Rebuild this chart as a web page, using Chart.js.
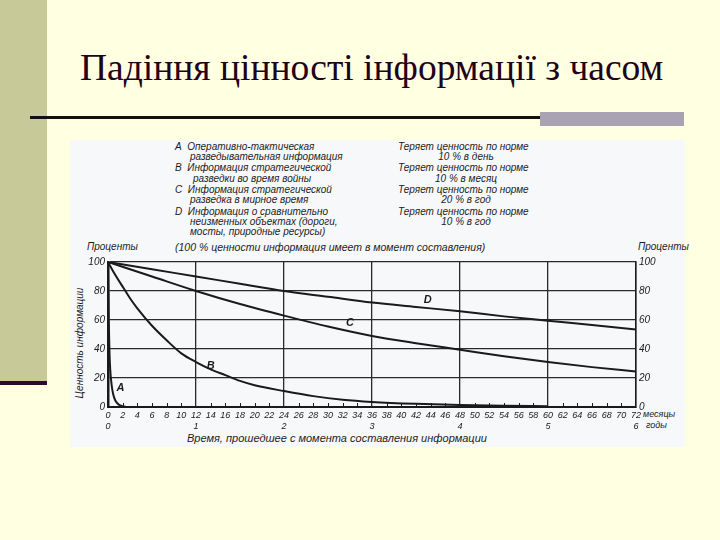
<!DOCTYPE html>
<html><head><meta charset="utf-8">
<script src="https://cdn.jsdelivr.net/npm/chart.js@4.4.1/dist/chart.umd.min.js"></script>
<style>
html,body{margin:0;padding:0;}
body{width:720px;height:540px;background:#ffffe2;position:relative;overflow:hidden;}
.abs{position:absolute;white-space:nowrap;}
#bar{left:0;top:0;width:47px;height:381px;background:#c8c998;}
#barline{left:0;top:381px;width:47px;height:4px;background:#2a0b2a;}
#title{left:80px;top:49px;font-family:"Liberation Serif",serif;font-size:37.5px;line-height:37.5px;color:#22001a;}
#rule{left:30px;top:116px;width:512px;height:3px;background:#111;}
#grey{left:540px;top:112px;width:144px;height:14px;background:#a9a2b3;}
#panel{left:70px;top:140px;width:615px;height:307px;background:#f7f8fa;}
.t{position:absolute;white-space:nowrap;font-family:"Liberation Sans",sans-serif;font-style:italic;font-size:10px;line-height:12px;color:#1c1c1c;}
.c{transform:translateX(-50%);}
#cv{position:absolute;left:0;top:0;}
</style></head>
<body>
<div class="abs" id="bar"></div>
<div class="abs" id="barline"></div>
<div class="abs" id="title">Падіння цінності інформації з часом</div>
<div class="abs" id="panel"></div>
<div class="abs" id="rule"></div>
<div class="abs" id="grey"></div>

<div class="t" style="left:175px;top:141px">A&nbsp; Оперативно-тактическая</div>
<div class="t" style="left:190px;top:151px">разведывательная информация</div>
<div class="t" style="left:175px;top:162px">B&nbsp; Информация стратегической</div>
<div class="t" style="left:193px;top:173px">разведки во время войны</div>
<div class="t" style="left:175px;top:184px">C&nbsp; Информация стратегической</div>
<div class="t" style="left:190px;top:194px">разведка в мирное время</div>
<div class="t" style="left:175px;top:206px">D&nbsp; Информация о сравнительно</div>
<div class="t" style="left:190px;top:216px">неизменных объектах (дороги,</div>
<div class="t" style="left:190px;top:226px">мосты, природные ресурсы)</div>

<div class="t" style="left:398px;top:141px">Теряет ценность по норме</div>
<div class="t c" style="left:466px;top:151px">10 % в день</div>
<div class="t" style="left:398px;top:162px">Теряет ценность по норме</div>
<div class="t c" style="left:466px;top:173px">10 % в месяц</div>
<div class="t" style="left:398px;top:184px">Теряет ценность по норме</div>
<div class="t c" style="left:466px;top:194px">20 % в год</div>
<div class="t" style="left:398px;top:206px">Теряет ценность по норме</div>
<div class="t c" style="left:466px;top:216px">10 % в год</div>

<div class="t" style="left:87px;top:241px">Проценты</div>
<div class="t" style="left:175px;top:241px;font-size:10.5px">(100 % ценности информация имеет в момент составления)</div>
<div class="t" style="left:638px;top:241px">Проценты</div>
<div class="t" style="left:643px;top:408px;font-size:9px">месяцы</div>
<div class="t" style="left:646px;top:419px;font-size:9px">годы</div>
<div class="t" style="left:187px;top:432px;font-size:11px">Время, прошедшее с момента составления информации</div>
<div class="t" style="left:80px;top:343px;transform:translate(-50%,-50%) rotate(-90deg);font-size:10px">Ценность информации</div>

<canvas id="cv" width="720" height="540"></canvas>
<script>
// ---- data ----
const monthTicks = [0,2,4,6,8,10,12,14,16,18,20,22,24,26,28,30,32,34,36,38,40,42,44,46,48,50,52,54,56,58,60,62,64,66,68,70,72];
const yearTicks = [0,1,2,3,4,5,6];
const valueTicks = [0,20,40,60,80,100];

const aMonths = [0, 0.1, 0.2, 0.3, 0.5, 0.7, 1, 1.5, 2, 2.5];
const aValues = [100, 60, 38, 26, 15, 9, 4.5, 1.5, 0.5, 0];

const bMonths = [0, 1, 2, 3, 4, 6, 8, 10, 12, 14, 16, 18, 20, 24, 28, 32, 36, 42, 48, 54, 60];
const bValues = [100, 91, 83, 75, 68, 56, 46, 37, 31, 26, 22, 18, 15, 11, 7.5, 5, 3.5, 2.2, 1.4, 0.9, 0.6];

const cMonths = [0, 6, 12, 18, 24, 30, 36, 42, 48, 54, 60, 66, 72];
const cValues = [100, 90, 80, 71, 63, 55.5, 49, 44, 39.5, 35, 31, 27.5, 24.5];

const dMonths = [0, 6, 12, 18, 24, 30, 36, 42, 48, 54, 60, 66, 72];
const dValues = [100, 95, 90, 85, 80, 76, 72, 69, 66, 62.5, 59.5, 56.5, 53.5];

const curveLabels = ['A','B','C','D'];
const labelAt = [[1.7,13],[14,28],[33,58],[43.6,74]];

function pts(xs, ys){ return xs.map((x,i)=>({x, y: ys[i]})); }

const ink = '#1a1a1a';
const tickFont = {family:'"Liberation Sans", sans-serif', style:'italic', size:9};

const upTicks = {
  id:'upTicks',
  afterDatasetsDraw(chart){
    const ctx = chart.ctx, xs = chart.scales.x, ys = chart.scales.y;
    const y0 = ys.getPixelForValue(0);
    ctx.save();
    ctx.strokeStyle = ink; ctx.lineWidth = 1;
    monthTicks.forEach(m=>{
      if (m % 12 === 0) return;
      const px = Math.round(xs.getPixelForValue(m)) + 0.5;
      ctx.beginPath(); ctx.moveTo(px, y0); ctx.lineTo(px, y0 - 4); ctx.stroke();
    });
    ctx.font = 'italic bold 11px "Liberation Sans", sans-serif';
    ctx.fillStyle = ink; ctx.textAlign = 'center'; ctx.textBaseline = 'middle';
    curveLabels.forEach((l,i)=>{
      ctx.fillText(l, xs.getPixelForValue(labelAt[i][0]), ys.getPixelForValue(labelAt[i][1]));
    });
    ctx.restore();
  }
};

const ds = (data) => ({data, borderColor: ink, borderWidth: 2, pointRadius: 0, tension: 0, cubicInterpolationMode: 'monotone', fill: false});

new Chart(document.getElementById('cv'), {
  type: 'line',
  data: { datasets: [ ds(pts(aMonths,aValues)), ds(pts(bMonths,bValues)), ds(pts(cMonths,cValues)), ds(pts(dMonths,dValues)) ] },
  options: {
    responsive: false, animation: false, devicePixelRatio: 1,
    layout: { padding: { left: 78, right: 44, top: 262, bottom: 103 } },
    plugins: { legend: {display:false}, tooltip: {enabled:false} },
    scales: {
      x: {
        type: 'linear', min: 0, max: 72,
        afterBuildTicks: s => { s.ticks = monthTicks.map(v=>({value:v})); },
        afterFit: s => { s.height = 30; },
        grid: { color: c => (c.tick && c.tick.value % 12 === 0) ? '#2a2a2a' : 'rgba(0,0,0,0)', lineWidth: 1.3, drawTicks: false },
        border: { display: true, color: ink, width: 2 },
        ticks: { autoSkip: false, maxRotation: 0, padding: 3, color: ink, font: tickFont,
          callback: v => v % 12 === 0 ? [String(v), String(yearTicks[v/12])] : [String(v), ''] }
      },
      y: {
        type: 'linear', min: 0, max: 100, position: 'left',
        afterBuildTicks: s => { s.ticks = valueTicks.map(v=>({value:v})); },
        afterFit: s => { s.width = 30; },
        grid: { color: '#2a2a2a', lineWidth: 1.3, drawTicks: false },
        border: { display: true, color: ink, width: 2.5 },
        ticks: { padding: 3, color: ink, font: {family:'"Liberation Sans", sans-serif', style:'italic', size:10} }
      },
      y2: {
        type: 'linear', min: 0, max: 100, position: 'right',
        afterBuildTicks: s => { s.ticks = valueTicks.map(v=>({value:v})); },
        afterFit: s => { s.width = 40; },
        grid: { display: false, drawTicks: false },
        border: { display: true, color: ink, width: 1.5 },
        ticks: { padding: 3, color: ink, font: {family:'"Liberation Sans", sans-serif', style:'italic', size:10} }
      }
    }
  },
  plugins: [upTicks]
});
</script>
</body></html>
